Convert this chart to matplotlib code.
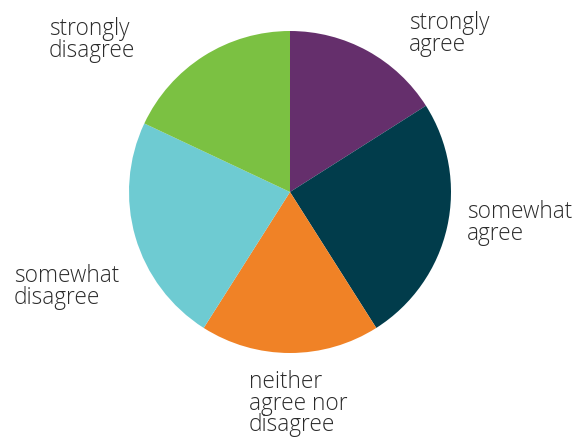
import matplotlib
matplotlib.use("Agg")
import matplotlib.pyplot as plt

categories = ["strongly\nagree", "somewhat\nagree", "neither\nagree nor\ndisagree",
              "somewhat\ndisagree", "strongly\ndisagree"]
values = [16, 25, 18, 23, 18]
colors = ["#652f6c", "#013c4b", "#f08226", "#6ecbd2", "#7bc142"]

W, H = 582, 438
fig = plt.figure(figsize=(W / 100, H / 100), dpi=100)
cx, cy, r = 290, 192, 161
ax = fig.add_axes([(cx - r) / W, (H - cy - r) / H, 2 * r / W, 2 * r / H])
ax.pie(values, colors=colors, startangle=90, counterclock=False, radius=1,
       wedgeprops=dict(linewidth=0))
ax.set_xlim(-1, 1)
ax.set_ylim(-1, 1)
ax.set_aspect("equal")
ax.axis("off")

# label anchors (top-left, pixels)
label_pos = [(409, 11), (467, 200), (249, 370), (14, 264), (49, 17)]
for txt, (x, y) in zip(categories, label_pos):
    fig.text(x / W, 1 - y / H, txt, ha="left", va="top", fontsize=16.3,
             color="#2b2b2b", family="Open Sans", fontweight="light",
             linespacing=0.87)

fig.savefig("out.png", dpi=100)
